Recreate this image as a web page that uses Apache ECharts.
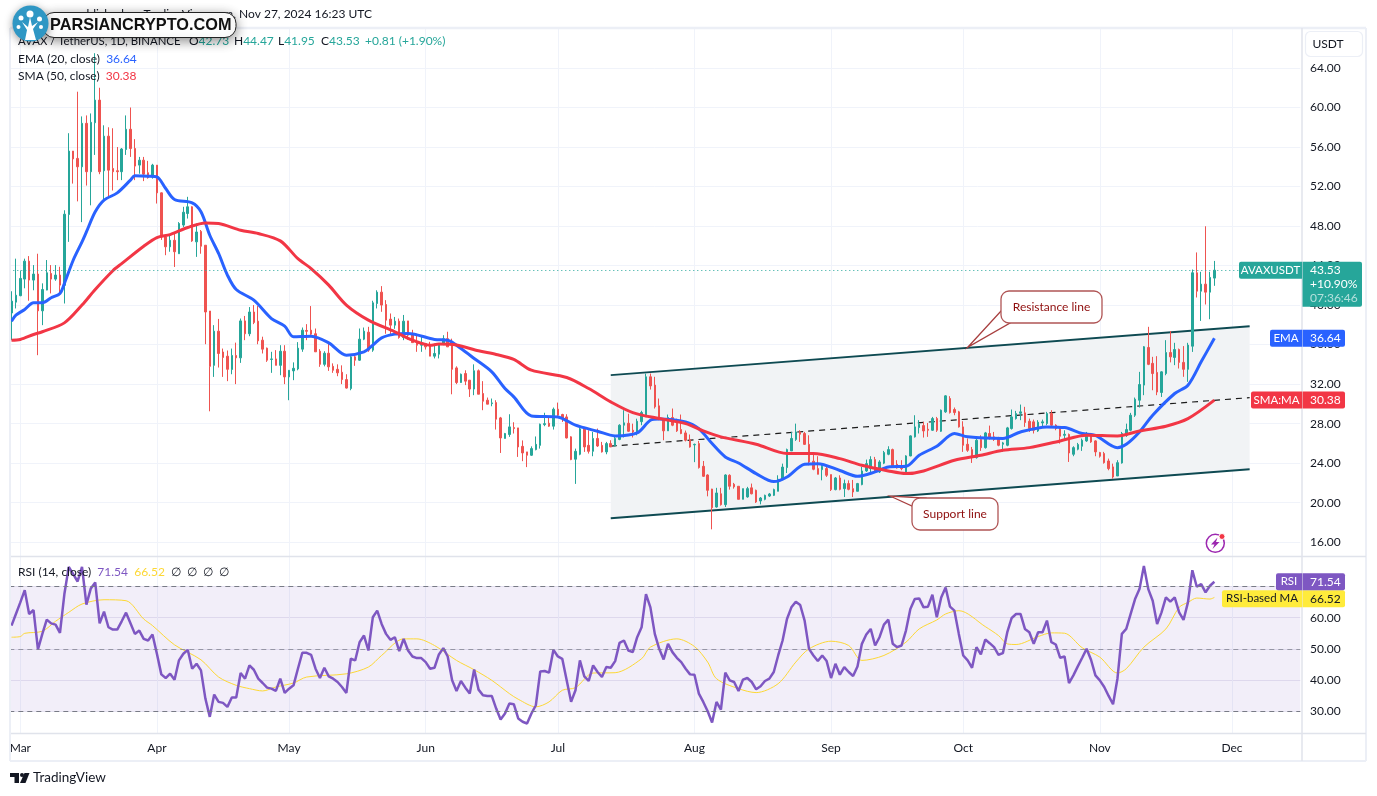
<!DOCTYPE html>
<html>
<head>
<meta charset="utf-8">
<title>AVAX / TetherUS, 1D</title>
<script src="https://cdn.jsdelivr.net/npm/echarts@6/dist/echarts.min.js"></script>
<style>
  html, body { margin: 0; padding: 0; background: #fff; }
  #chart { width: 1377px; height: 796px; }
</style>
</head>
<body>
<div id="chart"></div>
<script>
// Daily candles, first one is 28 Feb 2024, last one is 27 Nov 2024
const opens = [
  39.2,40.3,40.95,42.63,44.45,42.53,43.14,39.42,41.52,43.2,
  42.63,43.04,42.0,49.17,55.59,54.85,54,58.4,53.5,58.46,
  60.75,53.6,57.1,53.83,53.6,53.5,55.75,57.8,55.85,54.17,
  54.67,53.4,52.98,54.17,51.36,46.9,45.9,46.56,45.2,48.1,
  49.27,49.95,46.4,47.46,46.06,39.4,33.9,37.36,35.25,34.83,
  33.48,34.9,34.66,38.4,37.1,39.3,38.37,36.45,35.64,34.5,
  34.55,33.9,35.33,32.73,33.34,33.54,35.54,37.43,37.46,37.1,
  35.33,34,35.13,33.8,33.5,33.2,32.46,31.55,34.76,34.42,
  36.55,37.26,35.44,40.16,41.31,40.06,38.58,37.97,38.37,36.72,
  38.4,37.1,36.28,35.94,36.1,35.99,34.83,35.03,36.1,36.6,
  36.28,33.64,32.16,33.07,32.4,31.5,33.35,31.05,30.37,30.03,
  30.13,28.58,26.5,26.9,27.6,27.57,25.7,25.14,24.8,25.37,
  25.8,27.9,28.04,27.74,29.46,28.92,28.68,26.66,24.4,24.9,
  27.5,25.8,25.2,26.5,25.8,25.14,25.98,25.74,26.4,27.84,
  28.04,27.33,27.16,28.2,28.68,32.74,31.9,29.8,28.5,27.27,
  28.62,28.17,27.4,27.06,26.38,25.85,25.98,23.68,22.8,21.38,
  19.56,20.9,19.8,22.77,21.86,21.66,20.34,20.58,21.5,21.25,
  20.17,20.34,20.67,20.74,21.15,22.33,23.55,25.24,26.4,27.16,
  27,25.9,24.2,23.45,23.34,23.45,22.84,21.32,22.5,21.42,
  21.93,21.42,21.15,21.83,23.21,23.45,24.36,23.11,24,24.9,
  25.37,23.89,23.72,22.94,24.73,26.66,27.6,27.8,27.43,27.33,
  28.51,27.23,29.19,30.54,29.43,29.19,27.67,25.91,25.37,24.56,
  26.39,25.57,27,26.66,26.49,25.91,25.81,27.5,28.51,29.05,
  29.09,28.24,28.18,27.26,28.07,28.01,29.02,27.84,27.67,26.82,
  26.9,24.9,25.41,25.71,26.25,27,26.25,25.07,24.97,24.22,
  23.62,22.7,24.02,26.82,27.33,28.85,30.37,31.9,35.71,34.1,
  33.18,31.15,33.07,35.2,34.7,35.5,34.2,33.5,35.84,43.27,
  41.41,42.12,41.31,42.73
];
const closes = [
  40.4,41.0,42.7,44.45,42.53,43.14,39.42,41.58,43.27,42.63,
  43.04,42.02,49.2,55.59,54.8,54,58.4,53.5,58.5,60.75,
  53.5,57.1,53.66,53.5,53.5,55.8,57.8,55.85,54.07,54.67,
  53.25,52.9,54.17,51.36,46.9,45.9,46.56,45.4,48.26,49.4,
  49.95,46.5,47.4,45.96,39.3,33.8,37.36,35.1,34.7,33.5,
  34.9,34.66,38.4,37.1,39.3,38.24,36.38,35.54,34.42,34.55,
  33.9,35.33,32.73,33.4,33.6,35.64,37.46,37.35,37.06,35.27,
  34,35.13,33.75,33.4,33.14,32.46,31.6,34.76,34.42,36.55,
  37.36,35.44,40.23,41.31,40,38.47,37.97,38.37,36.72,38.37,
  36.95,36.2,35.94,36.04,35.77,34.83,35.1,36.1,36.6,35.77,
  33.5,32.16,33,32.3,31.5,33.35,30.98,30.27,29.97,30.1,
  28.45,26.55,27,27.67,27.5,25.64,25.03,24.8,25.47,25.9,
  27.94,28,27.74,29.46,28.85,28.5,26.55,24.36,25.2,27.47,
  25.64,25.2,26.5,25.74,25.14,25.98,25.64,26.5,27.84,28.08,
  27.23,27.16,28.24,29.12,32.74,31.82,29.7,28.4,27.27,28.62,
  27.84,27.27,27,26.32,25.64,25.9,23.55,22.67,21.25,19.49,
  20.98,19.8,22.8,21.66,21.6,20.34,21.42,21.42,20.9,20.07,
  20.47,20.74,20.88,21.32,22.37,23.6,25.37,26.5,27.16,26.93,
  25.9,24.12,23.38,22.87,23.68,22.77,21.32,22.5,21.35,21.93,
  21.35,21.08,21.93,23.21,23.95,24.36,23.11,24.12,25.07,25.37,
  23.72,23.51,23.45,24.73,26.76,27.67,27.94,27.26,27.33,28.51,
  27.33,29.36,30.81,29.12,29.12,27.67,25.81,25.3,24.56,26.32,
  25.57,27.06,26.59,26.39,25.81,26.05,27.57,28.68,29.02,29.19,
  28.11,27.5,27.33,28.14,28.18,29.02,27.84,27.5,26.72,26.92,
  25.03,25.57,25.88,26.32,27,26.15,25.14,24.7,24.05,23.45,
  22.6,24.05,27,27.4,28.85,30.47,31.96,35.78,34,33.07,
  31.2,33.24,35.2,34.76,35.5,34.2,33.5,35.95,43.27,41.41,
  42.12,41.31,42.8,43.53
];
const highs = [
  41.4,44.7,43.5,44.7,44.96,44.05,45.2,42.2,44.56,44.05,
  44.05,43.88,49.6,57.4,55.6,61.6,59.1,59.2,59.4,65.5,
  62,58.2,58,57.9,56,55.9,59.2,60,56.8,55,
  55,54.6,54.3,54.17,51.4,47.07,47.2,47.2,48.4,49.95,
  50.96,50,48.26,47.6,46.06,39.4,37.97,38.6,35.6,35.4,
  35.6,36.2,38.64,38.9,39.8,40,39.9,36.8,35.7,35.27,
  35.44,35.94,35.94,33.4,34.2,36.25,37.73,38.07,39.9,37.63,
  35.54,35.33,36.1,34.1,34,33.9,33,34.93,34.93,37.63,
  37.73,37.8,40.44,41.5,41.92,40.5,39.15,38.8,38.64,39,
  38.4,37.5,37.1,36.8,36.1,36.28,36.1,36.1,36.95,37.3,
  36.6,33.8,33.07,33.4,32.4,34,33.48,32.3,30.64,30.54,
  30.37,28.68,27.06,28.95,28.14,27.57,26.3,25.14,25.7,26.7,
  28,29.1,28.68,29.63,30.13,29,28.95,26.72,25.47,27.6,
  27.67,27.33,27.16,27.5,26.15,26.15,26.32,26.82,27.94,29.36,
  29,28,28.5,29.3,33.07,33.07,32.74,30.54,28.5,28.92,
  29.53,28.5,28.92,27.3,26.9,25.98,26.25,24.22,22.87,21.4,
  21.5,21.5,22.87,22.87,22,21.66,21.42,21.6,21.93,21.32,
  20.57,20.81,20.98,21.42,22.77,23.95,25.47,27.16,28,27.33,
  27.16,26.82,24.96,24.7,23.95,23.62,22.84,22.6,22.77,22.33,
  22.26,22.3,22,23.62,24.36,24.7,24.63,24.3,25.24,25.71,
  25.47,24.3,24.3,24.8,26.82,28.85,28.35,28.18,28.07,28.68,
  28.68,29.43,30.88,30.78,29.63,29.29,28.24,26.5,25.64,26.49,
  26.82,27.16,27.8,27.16,26.66,26.15,27.67,29.43,29.29,29.93,
  29.7,28.51,28.41,28.35,28.41,29.19,29.36,27.94,27.74,27.33,
  27,25.71,26.05,26.49,27.16,27.06,26.32,25.14,25.14,24.46,
  23.95,24.3,27.16,28,29.09,30.64,33.24,35.85,37.8,34.76,
  34.83,33.31,36.45,37.37,36.18,35.6,35.85,36.18,43.6,45.33,
  43.37,47.98,43.37,44.47
];
const lows = [
  36.45,39.66,40.9,41.7,40.44,41.5,34.93,37.97,41.5,41.18,
  42.46,41,40.16,46.4,52.3,50.5,48.4,52.1,50.1,55.2,
  53.25,50.6,51,51.6,52.65,52.65,55.2,55,52.65,53.3,
  52.55,52.8,52.8,50.28,46.6,45.05,45.4,43.86,45.2,47.9,
  48.76,46.4,44.88,45.2,36.04,29.25,32.73,33.68,32.73,32.3,
  33,32,34.15,36.45,36.85,38.07,36.04,35.1,34.25,33.14,
  33.9,32.9,32,30.37,32.4,33.4,35.27,36.45,36.95,35.27,
  33.75,33.8,33.34,33.14,32.8,32,31.55,31.38,33.85,34.35,
  36.45,35.27,35.27,39.66,39.32,37.1,36.95,37.6,36.6,36.45,
  36.5,36.2,35.27,35.27,35.5,34.83,34.6,34.6,35.94,35.77,
  30.97,32,32.13,31.9,30.7,30.88,30.98,29.36,29.97,29.76,
  27.4,25.03,26.5,26.66,27,24.63,24.2,23.6,24.73,25.3,
  25.47,27.74,27.67,27.4,28.58,28.17,26.5,24.3,21.9,24.8,
  25.14,24.97,24.7,25.64,25.07,24.9,25.64,25.7,26.32,26.6,
  27.16,26.6,26.82,27.84,28.68,31.45,29.53,28.35,26.32,27.27,
  27.74,27.16,26.93,26.2,25.57,24.1,23.45,22.6,20.64,17.3,
  19.5,19.7,19.56,21.32,21.42,20.34,20.34,20.5,20.84,19.97,
  19.83,20.24,20.57,20.67,21.15,22.26,23,25.24,26.25,26.15,
  25.85,23.78,23.28,22.87,22.26,22.6,21.18,21.25,21.25,20.57,
  21.25,20.57,21.15,21.76,23.11,23.1,23,23,23.9,24.8,
  23.72,23.45,23.28,22.87,24.7,26.59,27,26.59,26.66,27.26,
  27.16,27.16,29.09,29.02,28.85,27.6,25.14,25.14,24.02,24.46,
  25.24,25.47,26.39,26.25,25.71,25.14,25.71,27.4,28.41,28.35,
  27.67,27.16,27,27.16,27.74,27.84,27.74,27.33,25.98,26.39,
  24.12,24.7,25.3,25.24,26.15,26.05,24.7,24.56,23.95,23.28,
  22.43,22.7,23.95,26.66,27.23,28.68,29.63,30.88,33.92,31.38,
  30.88,30.7,32.9,34.2,33.92,33.58,32.74,32.23,35.26,40.77,
  38.4,40.06,38.57,41.95
];

// RSI per day, same days as the candles
const rsiValues = [
  57.48,61.2,64.93,68.87,61.2,62.48,49.81,54.8,59.4,58.2,
  57.8,55.14,67.6,76.33,73.98,71.64,76.33,64.19,69.41,71.32,
  58.2,61.95,56.95,56.2,56.2,58.86,61.63,58.2,54.82,55.88,
  53.22,52.69,54.6,48.43,41.82,40.65,42.04,40.12,46.3,48.43,
  49.7,43.63,45.23,43.1,34.05,28.19,35.33,33,32.67,31.39,
  34.37,34.37,42.25,40.44,44.7,43.31,40.44,39.05,37.56,37.24,
  36.5,40.44,35.86,37.24,38.31,43.63,48.75,48.75,48.11,43.63,
  40.65,43.95,41.18,40.44,39.37,37.78,35.86,46.83,46.3,52.15,
  54.28,49.49,60.14,62.27,58,54.82,52.9,53.75,49.28,53.22,
  49.49,47.57,47.04,47.04,45.76,43.63,43.95,48.21,50.24,47.57,
  39.91,36.5,39.69,37.56,35.65,43.42,36.92,35.11,34.9,34.9,
  30.85,27.34,29.26,32.45,32.24,27.66,26.6,26.06,29.26,31.92,
  42.78,42.89,42.36,49.7,47.57,46.83,39.91,33,36.71,46.3,
  41.18,39.69,44.7,42.57,40.97,44.17,43.95,46.08,51.94,52.69,
  49.49,48.96,53.75,56.95,67.6,63.34,54.82,50.02,46.62,51.62,
  48.96,47.15,45.76,43.63,41.82,41.72,35.65,32.98,30,26.38,
  32.98,30.53,42.36,39.91,39.37,36.5,40.12,40.65,39.37,37.03,
  37.99,39.69,40.44,42.57,47.89,52.69,59.61,63.34,65.15,64.08,
  59.08,50.02,47.89,46.08,47.89,46.08,40.65,45.23,41.72,44.17,
  42.57,41.29,44.38,51.62,54.6,56.41,51.09,53.75,57.8,59.4,
  51.62,50.56,51.09,55.88,62.8,66,66.21,63.34,63.55,67.38,
  60.14,66.53,69.73,63.55,62.27,54.82,47.89,46.3,43.95,50.56,
  48.21,53,51.83,50.56,48.11,48.64,55.35,59.93,61.21,61.21,
  56.41,55.35,51.62,55.35,55.35,59.08,52.15,51.41,47.15,47.57,
  39.05,41.5,44.38,47.15,50.02,46.51,41.5,39.91,37.78,34.9,
  32.24,40.44,54.82,56.41,61.21,66,69.19,76.65,69.19,65.47,
  58,61.74,66.53,65.15,66.53,61.74,59.29,64.93,75.26,69.94,
  70.79,68.13,70.26,71.54
];

// Moving averages were read at these day numbers (0 = 28 Feb)
const emaDays = [0,1,3,5,7,9,11,12,14,16,17,19,21,24,27,28,31,33,35,37,41,43,45,47,49,51,55,59,62,64,68,72,76,80,82,84,87,90,96,99,102,105,109,112,114,118,124,128,133,137,142,145,147,153,156,159,162,165,169,173,176,180,183,188,192,196,199,203,206,210,214,217,225,229,235,239,243,246,251,253,256,259,264,267,270,273];
const emaValues = [38.37,38.98,39.56,40.23,40.23,40.74,41.18,42.19,44.54,46.4,47.41,49.44,50.62,51.36,52.65,53.09,53.05,52.98,51.8,50.69,50.35,49.44,47.07,45.23,43.04,41.58,40.5,38.64,37.87,36.79,36.85,36.18,34.93,35.27,35.94,36.69,37.06,37.13,36.52,36.45,35.6,34.6,33.24,31.55,30.71,28.78,28.68,27.84,27.23,26.76,27.06,28.35,28.48,28.18,27.5,25.98,24.63,24.02,22.94,22.13,22.6,23.89,23.95,23.25,22.67,23.11,23.62,23.68,24.8,25.71,27,26.66,26.49,27.16,27.67,27.6,27,26.82,25.57,25.91,27.16,28.85,31.05,31.89,34.26,36.64];
const smaDays = [0,2,5,7,12,16,19,23,25,30,33,36,40,44,47,52,56,61,65,68,72,76,81,87,91,95,97,101,106,110,114,118,126,131,136,141,147,153,157,161,169,176,182,188,193,199,203,207,214,220,225,231,238,244,251,256,262,267,273];
const smaValues = [36.45,36.52,37.02,37.3,38.2,40,41.58,43.48,44.2,45.96,46.84,47.14,47.85,48.32,48.26,47.58,47.24,46.5,44.7,43.7,42.02,40,38.48,37.3,36.45,35.94,36.05,35.95,35.37,35,34.5,33.41,32.67,31.55,30.2,29.12,28.51,28,27.26,26.66,25.91,24.97,24.97,24.46,23.78,23.21,22.94,23.21,24.29,24.8,25.3,25.57,26.25,26.82,26.76,27.26,27.74,28.51,30.38];
const rsiMaDays = [0,2,3,7,10,13,16,21,26,30,32,37,43,47,51,54,57,60,64,67,76,81,84,89,92,96,101,105,109,113,115,119,122,125,128,132,137,143,145,151,155,158,160,165,169,174,178,181,186,190,193,198,203,206,210,212,215,221,224,226,228,233,236,239,243,247,251,253,257,262,265,267,269,272,273];
const rsiMaValues = [53.75,53.97,55,55.67,58.86,61.74,64.4,65.78,65.47,59.6,57.48,51.3,46.5,40.97,38.3,37.24,36.5,37.78,39.05,40.97,42,44.17,47.9,53.22,53.22,51.09,46.3,43.31,39.91,35.65,33.84,31.39,32.98,36.71,37.56,42.25,42.36,46.83,50.56,53.22,50.77,45.76,40.44,37.24,35.97,38.84,45.76,50.02,52.47,51.09,46.3,47.89,52.15,56.41,59.29,61.21,62.27,57.16,54.28,51.62,51.41,53.96,55.14,55.03,50.36,47.36,42.25,43.63,50.56,56.41,63.34,64.93,66.32,66,66.52];

// Channel drawn on the chart, from day 136 to day 281
const channelDays = [136, 281];
const resistanceLine = [32.91, 37.87];
const middleLine = [25.72, 30.63];
const supportLine = [18.43, 23.39];

const priceTicks = [16,20,24,28,32,36,40,44,48,52,56,60,64];
const rsiTicks = [30,40,50,60,70];
const monthNames = ['Jan','Feb','Mar','Apr','May','Jun','Jul','Aug','Sep','Oct','Nov','Dec'];

const lastClose = 43.53;
const lastEma = 36.64;
const lastSma = 30.38;
const lastRsi = 71.54;
const lastRsiMa = 66.52;

const UP = '#26a69a';
const DOWN = '#ef5350';
const EMA_COLOR = '#2962ff';
const SMA_COLOR = '#f23645';
const RSI_COLOR = '#7e57c2';
const RSI_MA_COLOR = '#fdd835';
const GRID = '#f0f3fa';
const INK = '#131722';
const FONT = 'Lato, sans-serif';

// one category per calendar day, the chart runs on past the last candle
const days = [];
for (let n = 0; n < 293; n++) {
  days.push(new Date(Date.UTC(2024, 1, 28 + n)).toISOString().slice(0, 10));
}
const isMonthStart = (index, value) => value.slice(8) === '01';
const monthLabel = (value) => monthNames[Number(value.slice(5, 7)) - 1];
const zip = (xs, ys) => xs.map((x, i) => [x, ys[i]]);

const candles = opens.map((o, i) => [o, closes[i], lows[i], highs[i]]);

const renderChannel = (params, api) => {
  const pt = (d, v) => api.coord([channelDays[d], v]);
  const edge = (line, style) => ({
    type: 'line',
    shape: {
      x1: pt(0, line[0])[0], y1: pt(0, line[0])[1],
      x2: pt(1, line[1])[0], y2: pt(1, line[1])[1]
    },
    style: style
  });
  return {
    type: 'group',
    children: [
      {
        type: 'polygon',
        shape: { points: [pt(0, resistanceLine[0]), pt(1, resistanceLine[1]), pt(1, supportLine[1]), pt(0, supportLine[0])] },
        style: { fill: '#f1f3f5' }
      },
      edge(middleLine, { stroke: '#1c1c1c', lineWidth: 1.2, lineDash: [6, 5] }),
      edge(resistanceLine, { stroke: '#0e4a52', lineWidth: 2 }),
      edge(supportLine, { stroke: '#0e4a52', lineWidth: 2 })
    ]
  };
};

const xAxisBase = {
  type: 'category',
  data: days,
  boundaryGap: true,
  axisLine: { show: false },
  axisTick: { show: false, alignWithLabel: true, interval: isMonthStart },
  splitLine: { show: true, alignWithLabel: true, interval: isMonthStart, lineStyle: { color: GRID, width: 1 } }
};

const option = {
  animation: false,
  backgroundColor: '#fff',
  textStyle: { fontFamily: FONT },
  grid: [
    { left: 9.3, width: 1291, top: 28, height: 528 },
    { left: 9.3, width: 1291, top: 557, height: 176 }
  ],
  xAxis: [
    Object.assign({}, xAxisBase, { gridIndex: 0, axisLabel: { show: false } }),
    Object.assign({}, xAxisBase, {
      gridIndex: 1,
      axisLabel: { show: true, interval: isMonthStart, formatter: monthLabel, color: INK, fontSize: 12, fontFamily: FONT, margin: 9 }
    })
  ],
  yAxis: [
    {
      gridIndex: 0, type: 'value', position: 'right', min: 14.6, max: 68.05, scale: true,
      axisLine: { show: false },
      axisTick: { show: false, customValues: priceTicks },
      axisLabel: { customValues: priceTicks, formatter: (v) => v.toFixed(2), color: INK, fontSize: 12, fontFamily: FONT, margin: 9.7 },
      splitLine: { show: true, lineStyle: { color: GRID } }
    },
    {
      gridIndex: 1, type: 'value', position: 'right', min: 23, max: 79.5, scale: true,
      axisLine: { show: false },
      axisTick: { show: false, customValues: rsiTicks },
      axisLabel: { customValues: rsiTicks, formatter: (v) => v.toFixed(2), color: INK, fontSize: 12, fontFamily: FONT, margin: 9.7 },
      splitLine: { show: true, lineStyle: { color: '#e9e7f2' } }
    }
  ],
  series: [
    {
      name: 'Channel', type: 'custom', xAxisIndex: 0, yAxisIndex: 0, z: 1,
      silent: true, renderItem: renderChannel, data: [[channelDays[0], resistanceLine[0]]]
    },
    {
      name: 'AVAXUSDT', type: 'candlestick', xAxisIndex: 0, yAxisIndex: 0, z: 3,
      barWidth: 2,
      data: candles,
      itemStyle: { color: UP, color0: DOWN, borderColor: UP, borderColor0: DOWN, borderWidth: 1 },
      markLine: {
        silent: true, symbol: 'none', label: { show: false },
        lineStyle: { color: UP, type: [1, 3], width: 1 },
        data: [{ yAxis: lastClose }]
      }
    },
    {
      name: 'EMA', type: 'line', xAxisIndex: 0, yAxisIndex: 0, z: 4,
      data: zip(emaDays, emaValues), showSymbol: false, smooth: 0.3,
      lineStyle: { color: EMA_COLOR, width: 3 }
    },
    {
      name: 'SMA', type: 'line', xAxisIndex: 0, yAxisIndex: 0, z: 4,
      data: zip(smaDays, smaValues), showSymbol: false, smooth: 0.3,
      lineStyle: { color: SMA_COLOR, width: 3 }
    },
    {
      name: 'RSI', type: 'line', xAxisIndex: 1, yAxisIndex: 1, z: 4,
      data: rsiValues, showSymbol: false,
      lineStyle: { color: RSI_COLOR, width: 2.5 },
      markArea: {
        silent: true, itemStyle: { color: 'rgba(126,87,194,0.1)' },
        data: [[{ yAxis: 70 }, { yAxis: 30 }]]
      },
      markLine: {
        silent: true, symbol: 'none', label: { show: false },
        data: [
          { yAxis: 70, lineStyle: { color: '#787b86', type: [5, 4], width: 1 } },
          { yAxis: 50, lineStyle: { color: 'rgba(120,123,134,0.7)', type: [5, 4], width: 1 } },
          { yAxis: 30, lineStyle: { color: '#787b86', type: [5, 4], width: 1 } }
        ]
      }
    },
    {
      name: 'RSI-based MA', type: 'line', xAxisIndex: 1, yAxisIndex: 1, z: 3,
      data: zip(rsiMaDays, rsiMaValues), showSymbol: false, smooth: 0.3,
      lineStyle: { color: RSI_MA_COLOR, width: 1 }
    }
  ]
};

// --- overlay helpers: frame, legends, price tags, callouts, logos ---
const TOP = 100;
const text = (x, y, str, extra) => ({
  type: 'text', z: TOP, silent: true,
  style: Object.assign({ x: x, y: y, text: str, fill: INK, font: '12px ' + FONT, textVerticalAlign: 'middle' }, extra || {})
});
const box = (x, y, w, h, fill, r, extra) => ({
  type: 'rect', z: TOP, silent: true,
  shape: { x: x, y: y, width: w, height: h, r: r || 0 },
  style: Object.assign({ fill: fill }, extra || {})
});
const hairline = (x1, y1, x2, y2, color, width) => ({
  type: 'line', z: TOP, silent: true,
  shape: { x1: x1, y1: y1, x2: x2, y2: y2 },
  style: { stroke: color, lineWidth: width || 1 }
});
const shape = (points, fill, stroke, lineWidth) => ({
  type: 'polygon', z: TOP, silent: true,
  shape: { points: points },
  style: { fill: fill, stroke: stroke, lineWidth: lineWidth || 0 }
});
const dot = (cx, cy, r, fill, extra) => ({
  type: 'circle', z: TOP, silent: true,
  shape: { cx: cx, cy: cy, r: r },
  style: Object.assign({ fill: fill }, extra || {})
});

const priceTag = (left, name, right, y, bg, fg, valueText) => [
  box(left, y - 8.5, 1302 - left, 17, bg, [2, 0, 0, 2]),
  box(1302.5, y - 8.5, right - 1302.5, 17, bg, [0, 2, 2, 0]),
  text((left + 1302) / 2, y, name, { fill: fg, textAlign: 'center', font: '11.5px ' + FONT }),
  text(1310, y, valueText, { fill: fg })
];

const callout = (x, y, w, h, label, pointer) => [
  shape(pointer, '#fff', '#a83f3f', 1.3),
  box(x, y, w, h, '#fff', 8, { stroke: '#b05555', lineWidth: 1.3 }),
  text(x + w / 2, y + h / 2, label, { fill: '#8f0e0e', textAlign: 'center' })
];

const buildOverlay = (chart) => {
  const priceY = (v) => chart.convertToPixel({ yAxisIndex: 0 }, v);
  const rsiY = (v) => chart.convertToPixel({ yAxisIndex: 1 }, v);
  const closeY = priceY(lastClose);
  const rsiTagY = rsiY(lastRsi);
  const richLegend = {
    g: { fill: UP, font: '12px ' + FONT },
    k: { fill: INK, font: '12px ' + FONT },
    b: { fill: EMA_COLOR, font: '12px ' + FONT },
    r: { fill: SMA_COLOR, font: '12px ' + FONT },
    p: { fill: RSI_COLOR, font: '12px ' + FONT },
    y: { fill: RSI_MA_COLOR, font: '12px ' + FONT }
  };
  return [
    // frame and pane separators
    hairline(10, 28, 1366, 28, '#eceff6', 2.5),
    hairline(10, 28, 10, 761, '#eceff6', 2),
    hairline(1366, 28, 1366, 761, '#eceff6', 2),
    hairline(10, 761, 1366, 761, '#eceff6', 2),
    hairline(11, 556.5, 1366, 556.5, '#e0e3eb', 1.5),
    hairline(11, 733.5, 1366, 733.5, '#e0e3eb', 1.5),
    hairline(1302, 28, 1302, 761, '#e0e3eb', 1.5),

    // heading and legends
    text(372, 14, 'published on TradingView.com, Nov 27, 2024 16:23 UTC', { textAlign: 'right' }),
    text(18, 41.5, 'AVAX / TetherUS, 1D, BINANCE', { font: '11.4px ' + FONT }),
    text(189, 41.5, '{k|O}{g|42.73}', { rich: richLegend }),
    text(234, 41.5, '{k|H}{g|44.47}', { rich: richLegend }),
    text(278, 41.5, '{k|L}{g|41.95}', { rich: richLegend }),
    text(321, 41.5, '{k|C}{g|43.53}', { rich: richLegend }),
    text(365, 41.5, '+0.81 (+1.90%)', { fill: UP }),
    text(18, 59, '{k|EMA (20, close)}  {b|36.64}', { rich: richLegend }),
    text(18, 76, '{k|SMA (50, close)}  {r|30.38}', { rich: richLegend }),
    text(18, 572, '{k|RSI (14, close)}  {p|71.54}  {y|66.52}  {k|∅  ∅  ∅  ∅}', { rich: richLegend }),

    // USDT box
    box(1305.5, 31.5, 57, 25, '#fff', 5, { stroke: '#eceff6', lineWidth: 1.2 }),
    text(1328, 44, 'USDT', { textAlign: 'center' }),

    // price tags on the scale
    box(1239, closeY - 8.5, 63, 17, UP, [2, 0, 0, 2]),
    text(1270.5, closeY, 'AVAXUSDT', { fill: '#fff', textAlign: 'center', font: '11.5px ' + FONT }),
    box(1302.5, closeY - 8.5, 59.5, 45, UP, [0, 2, 2, 0]),
    text(1310, closeY, '43.53', { fill: '#fff' }),
    text(1310, closeY + 14, '+10.90%', { fill: '#fff' }),
    text(1310, closeY + 28, '07:36:46', { fill: 'rgba(255,255,255,0.65)' }),
    ...priceTag(1270, 'EMA', 1345, priceY(lastEma), EMA_COLOR, '#fff', lastEma.toFixed(2)),
    ...priceTag(1251, 'SMA:MA', 1345, priceY(lastSma), SMA_COLOR, '#fff', lastSma.toFixed(2)),
    ...priceTag(1222, 'RSI-based MA', 1345, rsiTagY + 17, '#ffeb3b', INK, lastRsiMa.toFixed(2)),
    ...priceTag(1276, 'RSI', 1345, rsiTagY, RSI_COLOR, '#fff', lastRsi.toFixed(2)),

    // callouts
    ...callout(1001, 291, 101, 32, 'Resistance line', [[968, 347], [1001, 311], [1010, 323]]),
    ...callout(912, 498, 86, 32, 'Support line', [[890, 496], [912, 506], [925, 498]]),

    // lightning badge
    dot(1215.3, 543.3, 9, 'none', { stroke: '#9c27b0', lineWidth: 1.5 }),
    shape([[1217.5, 537.5], [1211, 544.5], [1214.5, 544.5], [1212.5, 549], [1219.5, 542], [1216, 542]], '#9c27b0', '#9c27b0', 0),
    dot(1222, 536.5, 3, '#f23645', { stroke: '#fff', lineWidth: 1 }),

    // TradingView footer
    shape([[10, 773], [19, 773], [19, 783], [14.5, 783], [14.5, 777], [10, 777]], INK, INK, 0),
    dot(22, 775, 2, INK),
    shape([[24.5, 773], [29.5, 773], [25.5, 783], [20, 783]], INK, INK, 0),
    text(33, 778, 'TradingView', { font: '13.5px ' + FONT }),

    // watermark badge
    box(43, 12.5, 193, 25, '#fff', 11, { stroke: '#222', lineWidth: 1, shadowBlur: 12, shadowColor: 'rgba(0,0,0,0.45)', shadowOffsetY: 3 }),
    text(50, 25.5, 'PARSIANCRYPTO.COM', { fill: '#111', font: 'bold 16.3px "Liberation Sans", sans-serif' }),
    dot(30.5, 23.5, 18, '#2f97c4', { shadowBlur: 8, shadowColor: 'rgba(0,0,0,0.4)', shadowOffsetY: 2 }),
    shape([[25, 40], [36, 40], [33, 29], [38, 22], [32, 26], [30, 17], [28, 27], [22, 22], [27, 30]], '#fff', '#fff', 0),
    dot(30, 14, 3.5, '#fff'),
    dot(21, 18, 2.5, '#fff'),
    dot(39.5, 19, 2.5, '#fff'),
    dot(18.5, 27, 2, '#fff'),
    dot(41, 27, 2, '#fff')
  ];
};

window.addEventListener('load', () => {
  const chart = echarts.init(document.getElementById('chart'));
  chart.setOption(option);
  chart.setOption({ graphic: { elements: buildOverlay(chart) } });
});
</script>
</body>
</html>
